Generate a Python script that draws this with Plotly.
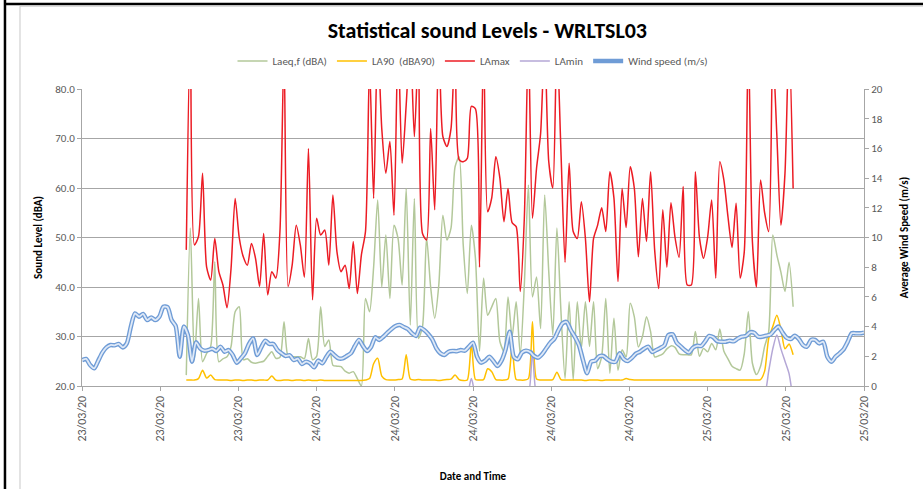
import pandas as pd
import plotly.graph_objects as go

# ---------------- data ----------------
TITLE = "Statistical sound Levels - WRLTSL03"
AXIS_START = "2020-03-23 09:36"
AXIS_END = "2020-03-25 09:36"
TICK_LABELS = ["23/03/20", "23/03/20", "23/03/20", "24/03/20", "24/03/20", "24/03/20",
               "24/03/20", "24/03/20", "25/03/20", "25/03/20", "25/03/20"]

SOUND_START = "2020-03-23 16:00"   # 15-minute intervals
WIND_START = "2020-03-23 09:36"    # 15-minute intervals

LAMAX = [
    47.5, 92, 48.5, 50.2, 63.0, 44.0, 41.4, 49.8, 43.1, 40.4,
    35.8, 43.8, 57.9, 50.0, 46.1, 44.4, 48.8, 45.8, 40.1, 50.8,
    38.4, 43.1, 41.8, 51.2, 88, 40.1, 44.4, 52.5, 48.5, 42.0,
    68.0, 37.4, 53.9, 50.5, 51.5, 44.4, 58.6, 47.1, 43.1, 44.4,
    39.7, 49.2, 38.7, 46.5, 51.2, 85, 57.9, 90, 72, 63,
    69.4, 54.5, 90, 65, 76.8, 90, 70.4, 88, 50.8, 49.5,
    72, 55.6, 90, 70.4, 68.4, 72, 90, 65.7, 65.3, 66,
    76.5, 76, 44, 90, 55.2, 58, 66.3, 62, 53.2, 59.9,
    53, 52.2, 39.1, 53.9, 90, 53.9, 64, 71, 90, 65.3,
    60, 90, 67.3, 45, 65, 51.2, 49.8, 57.2, 49.8, 37,
    49.8, 52.5, 56, 51.2, 63.3, 58, 41.1, 59.9, 52, 64.3,
    60, 46.1, 57.9, 49.2, 63.3, 47.5, 39.7, 55.6, 44, 57,
    50, 46, 60.3, 40.4, 40.4, 63.3, 50, 45.8, 50, 57.6,
    41.8, 65.3, 61.6, 54.2, 48, 56.9, 41.8, 47.1, 90, 49.2,
    40, 61.6, 55, 51.2, 88, 70.7, 52.5, 63, 90, 59.9,
]

LAEQ = [
    22.2, 51.9, 25.3, 37.7, 24.9, 26.6, 28, 45.1, 24.9, 25.5,
    25.9, 28, 35, 36, 25.3, 25.5, 24.8, 24.6, 24.8, 25,
    26, 26.9, 25.6, 25.8, 33, 26, 25.9, 25.9, 25.9, 25.5,
    29.6, 25.3, 26, 36, 28, 29.3, 24.2, 24, 23.9, 23,
    22.6, 22.9, 21.5, 20.0, 37.7, 35, 44, 57.6, 40, 50.5,
    37.7, 52.5, 49.8, 40.4, 59.9, 32.3, 57.9, 29.6, 32, 50,
    40, 33.7, 40.4, 54.5, 49.5, 51.9, 64.3, 66.3, 48.5, 38.7,
    52.5, 45.8, 27, 41.8, 34.3, 36, 37.7, 29, 27, 38,
    30, 37, 26.3, 40.4, 60.6, 38, 42, 31.6, 58.6, 43.1,
    30.3, 51.9, 35, 21.5, 37, 21.2, 37, 27.6, 37, 28,
    37, 23.5, 26, 37.7, 22.6, 33.7, 23.2, 27.3, 25.9, 36.7,
    34, 27.9, 30, 34, 31, 25.9, 26.1, 26.5, 27.5, 28.1,
    27.8, 26.5, 26.3, 26.3, 26.3, 31, 26, 27.6, 26.9, 28.6,
    27.3, 31.5, 27, 25.5, 24, 23.5, 23.2, 26.5, 35, 24.6,
    22.3, 24, 28, 31, 50.5, 46.5, 43, 39.1, 45, 36,
]

LA90 = [
    21.2, 21.2, 21.2, 21.5, 23.2, 21.6, 22.2, 21.3, 21.2, 21.2,
    21.2, 21.1, 21.2, 21.2, 21.1, 21.2, 21.2, 21.1, 21.2, 21.2,
    21.2, 22.0, 21.2, 21.1, 21.2, 21.2, 21.1, 21.2, 21.2, 21.1,
    21.2, 21.1, 21.1, 21.2, 21.1, 21.1, 21.1, 21.1, 21.1, 21.1,
    21.1, 21.1, 21.1, 21.1, 21.2, 21.5, 24.5, 25.6, 22.0, 21.3,
    21.2, 21.2, 21.3, 21.4, 26.3, 21.4, 21.2, 21.3, 21.2, 21.2,
    21.2, 21.2, 21.1, 21.2, 21.3, 21.4, 22.2, 21.3, 21.1, 21.2,
    28.6, 21.3, 21.2, 21.3, 23.5, 22.9, 21.3, 21.2, 21.2, 21.4,
    27.9, 21.3, 21.2, 21.2, 21.5, 33.0, 21.4, 21.2, 21.2, 21.2,
    21.3, 22.8, 21.3, 21.2, 21.2, 21.2, 21.2, 21.2, 21.1, 21.2,
    21.2, 21.2, 21.1, 21.2, 21.2, 21.2, 21.2, 21.2, 21.5, 21.3,
    21.2, 21.2, 21.2, 21.2, 21.2, 21.2, 21.2, 21.2, 21.2, 21.2,
    21.2, 21.2, 21.2, 21.2, 21.2, 21.2, 21.2, 21.2, 21.2, 21.2,
    21.2, 21.2, 21.2, 21.2, 21.2, 21.2, 21.2, 21.2, 21.2, 21.2,
    21.2, 21.3, 23.0, 29.6, 32.0, 34.3, 31.5, 27.5, 28.5, 26.3,
]

LAMIN = [
    18.5, 18.5, 18.5, 18.5, 18.5, 18.5, 18.5, 18.5, 18.5, 18.5,
    18.5, 18.5, 18.5, 18.5, 18.5, 18.5, 18.5, 18.5, 18.5, 18.5,
    18.5, 18.5, 18.5, 18.5, 18.5, 18.5, 18.5, 18.5, 18.5, 18.5,
    18.5, 18.5, 18.5, 18.5, 18.5, 18.5, 18.5, 18.5, 18.5, 18.5,
    18.5, 18.5, 18.5, 18.5, 18.5, 18.5, 18.5, 18.5, 18.5, 18.5,
    18.5, 18.5, 18.5, 18.5, 18.5, 18.5, 18.5, 18.5, 18.5, 18.5,
    18.5, 18.5, 18.5, 18.5, 18.5, 18.5, 18.5, 18.5, 18.5, 18.5,
    21.5, 18.5, 18.5, 18.5, 18.5, 18.5, 18.5, 18.5, 18.5, 18.5,
    18.5, 18.5, 18.5, 18.5, 18.5, 27.0, 18.5, 18.5, 18.5, 18.5,
    18.5, 18.5, 18.5, 18.5, 18.5, 18.5, 18.5, 18.5, 18.5, 18.5,
    18.5, 18.5, 18.5, 18.5, 18.5, 18.5, 18.5, 18.5, 18.5, 18.5,
    18.5, 18.5, 18.5, 18.5, 18.5, 18.5, 18.5, 18.5, 18.5, 18.5,
    18.5, 18.5, 18.5, 18.5, 18.5, 18.5, 18.5, 18.5, 18.5, 18.5,
    18.5, 18.5, 18.5, 18.5, 18.5, 18.5, 18.5, 18.5, 18.5, 18.5,
    18.5, 18.5, 18.5, 23.0, 27.5, 30.3, 27.5, 25.0, 22.5, 17.0,
]

WIND = [
    1.73, 1.82, 1.41, 1.19, 1.71, 2.25, 2.60, 2.76, 2.74, 2.83,
    2.60, 2.87, 4.00, 4.89, 4.67, 4.85, 4.44, 4.62, 4.44, 4.67,
    5.34, 5.30, 4.44, 4.04, 1.97, 4.00, 3.43, 1.64, 2.94, 2.54,
    2.38, 2.42, 2.51, 2.36, 2.65, 2.31, 2.42, 2.09, 1.57, 1.86,
    2.20, 2.83, 3.21, 2.09, 2.60, 3.05, 2.83, 2.83, 2.42, 2.20,
    2.02, 2.07, 1.75, 1.84, 1.48, 1.64, 1.53, 1.26, 1.71, 1.53,
    1.97, 2.31, 2.07, 1.86, 1.86, 2.02, 2.20, 2.69, 3.10, 2.69,
    2.36, 2.65, 3.28, 3.10, 3.32, 3.59, 3.84, 4.04, 4.11, 3.97,
    3.84, 3.55, 3.37, 3.93, 3.77, 3.50, 3.14, 2.54, 2.20, 2.09,
    2.31, 2.36, 2.34, 2.42, 2.38, 2.65, 2.92, 1.97, 1.57, 1.71,
    1.97, 1.68, 1.35, 1.71, 2.47, 3.66, 1.97, 1.80, 2.25, 2.38,
    2.29, 2.02, 1.91, 2.15, 2.54, 2.92, 3.19, 3.77, 4.22, 4.31,
    3.77, 3.32, 2.76, 1.75, 0.86, 1.64, 1.71, 2.00, 2.02, 1.80,
    1.64, 1.64, 2.20, 1.82, 1.68, 1.89, 2.18, 2.31, 2.51, 2.65,
    2.29, 2.42, 2.56, 2.74, 3.43, 3.48, 2.92, 2.67, 2.42, 2.25,
    2.58, 2.71, 2.69, 3.01, 3.37, 3.28, 3.01, 2.98, 2.98, 3.05,
    3.01, 3.19, 3.32, 3.37, 3.61, 3.59, 3.32, 3.32, 3.39, 3.46,
    3.77, 4.00, 3.59, 3.25, 3.16, 3.39, 3.16, 2.76, 2.65, 3.10,
    3.10, 2.87, 2.98, 1.97, 1.64, 1.97, 2.20, 2.47, 2.98, 3.55,
    3.55, 3.55, 3.59,
]

# ---------------- build figure ----------------
sound_t = pd.date_range(SOUND_START, periods=len(LAMAX), freq="15min")
wind_t = pd.date_range(WIND_START, periods=len(WIND), freq="15min")
tick_t = pd.date_range(AXIS_START, AXIS_END, periods=len(TICK_LABELS))

FONT = "Calibri, Carlito, Lato, 'Open Sans', sans-serif"
GRID = "#a6a6a6"

fig = go.Figure()
line_kw = dict(shape="spline", smoothing=0.7)

fig.add_trace(go.Scatter(x=sound_t, y=LAEQ, mode="lines", name="Laeq,f (dBA)",
                         line=dict(color="#b3c89a", width=1.5, **line_kw)))
fig.add_trace(go.Scatter(x=sound_t, y=LA90, mode="lines", name="LA90  (dBA90)",
                         line=dict(color="#ffc000", width=1.5, **line_kw)))
fig.add_trace(go.Scatter(x=sound_t, y=LAMAX, mode="lines", name="LAmax",
                         line=dict(color="#ec1c24", width=1.5, **line_kw)))
fig.add_trace(go.Scatter(x=sound_t, y=LAMIN, mode="lines", name="LAmin",
                         line=dict(color="#b4a7d6", width=1.5, **line_kw)))
fig.add_trace(go.Scatter(x=wind_t, y=WIND, mode="lines", name="Wind speed (m/s)",
                         yaxis="y2", line=dict(color="#6f9cd6", width=4.5, **line_kw)))
fig.add_trace(go.Scatter(x=wind_t, y=WIND, mode="lines", showlegend=False,
                         yaxis="y2", hoverinfo="skip",
                         line=dict(color="#dfe9f7", width=1.8, **line_kw)))

fig.update_layout(
    width=923, height=489,
    margin=dict(l=82, r=59, t=89, b=103, autoexpand=False),
    paper_bgcolor="white", plot_bgcolor="white",
    font=dict(family=FONT, size=11, color="#595959"),
    title=dict(text="<b>" + TITLE + "</b>", x=0.528, xanchor="center",
               y=0.938, yanchor="middle",
               font=dict(family=FONT, size=22, color="#000000")),
    legend=dict(orientation="h", x=0.5, xanchor="center", y=1.094, yanchor="middle",
                font=dict(family=FONT, size=11, color="#595959"),
                itemwidth=30, tracegroupgap=0, bgcolor="rgba(0,0,0,0)"),
    showlegend=True,
    xaxis=dict(
        type="date", range=[AXIS_START, AXIS_END], automargin=False,
        tickmode="array", tickvals=tick_t, ticktext=TICK_LABELS,
        tickangle=-90, ticks="outside", ticklen=4, tickcolor=GRID,
        showline=True, linecolor=GRID, linewidth=1, showgrid=False, zeroline=False,
        tickfont=dict(family=FONT, size=12, color="#595959"),
        title=dict(text="<b>Date and Time</b>", standoff=31,
                   font=dict(family=FONT, size=11, color="#000000")),
    ),
    yaxis=dict(
        range=[20, 80], dtick=10, tickformat=".1f", automargin=False,
        showgrid=True, gridcolor=GRID, gridwidth=1,
        showline=True, linecolor=GRID, linewidth=1, zeroline=False,
        ticks="outside", ticklen=4, tickcolor=GRID,
        tickfont=dict(family=FONT, size=11, color="#595959"),
        title=dict(text="<b>Sound Level (dBA)</b>", standoff=10,
                   font=dict(family=FONT, size=11, color="#000000")),
    ),
    yaxis2=dict(
        range=[0, 20], dtick=2, overlaying="y", side="right", automargin=False,
        showgrid=False, zeroline=False,
        showline=True, linecolor=GRID, linewidth=1,
        ticks="outside", ticklen=4, tickcolor=GRID,
        tickfont=dict(family=FONT, size=11, color="#595959"),
        title=dict(text="<b>Average Wind Speed (m/s)</b>", standoff=18,
                   font=dict(family=FONT, size=11, color="#000000")),
    ),
    shapes=[
        # outer black frame (left and top)
        dict(type="line", xref="paper", yref="paper", x0=-0.0985, x1=-0.0985,
             y0=-0.35, y1=1.30, line=dict(color="#000000", width=2.5)),
        dict(type="line", xref="paper", yref="paper", x0=-0.0985, x1=1.08,
             y0=1.286, y1=1.286, line=dict(color="#000000", width=2.5)),
        # light grey chart-area border
        dict(type="line", xref="paper", yref="paper", x0=-0.0793, x1=-0.0793,
             y0=-0.35, y1=1.279, line=dict(color="#c8c8c8", width=1)),
        dict(type="line", xref="paper", yref="paper", x0=-0.0793, x1=1.08,
             y0=1.279, y1=1.279, line=dict(color="#c8c8c8", width=1)),
    ],
)

fig.write_html(
    "out.html",
    config={"displayModeBar": False},
    post_script="document.body.style.margin='0';document.body.style.overflow='hidden';",
)
